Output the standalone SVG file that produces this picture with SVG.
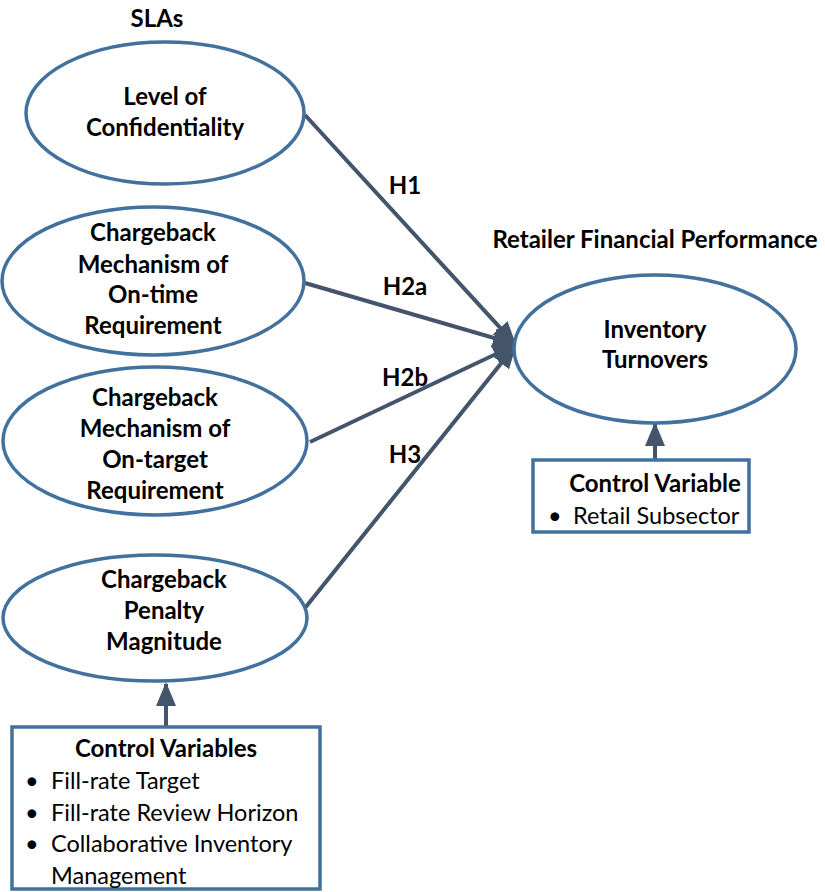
<svg xmlns="http://www.w3.org/2000/svg" width="825" height="892" viewBox="0 0 825 892">
<style>
.node{fill:#fff;stroke:#41719C;stroke-width:3.5}
.box{fill:#fff;stroke:#41719C;stroke-width:3.5}
.t{font-family:Lato,"Open Sans","Liberation Sans",sans-serif;font-size:24px;font-weight:bold;fill:#000;text-anchor:middle}
.r{font-family:Lato,"Open Sans","Liberation Sans",sans-serif;font-size:23.5px;fill:#000}
.c{stroke:#44546A;stroke-width:4;fill:none;marker-end:url(#ah)}
</style>
<defs>
<marker id="ah" markerWidth="6" markerHeight="5" refX="5.5" refY="2.5" orient="auto" markerUnits="strokeWidth">
<path d="M0,0 L6,2.5 L0,5 Z" fill="#44546A"/>
</marker>
</defs>
<rect width="825" height="892" fill="#fff"/>
<text class="t" x="157" y="27">SLAs</text>
<text class="t" x="655" y="248">Retailer Financial Performance</text>
<g id="connectors">
<line class="c" x1="305" y1="115" x2="515" y2="344"/>
<line class="c" x1="305" y1="283" x2="515" y2="344"/>
<line class="c" x1="310" y1="442" x2="515" y2="345"/>
<line class="c" x1="305" y1="608" x2="515" y2="346"/>
<line class="c" x1="655" y1="460" x2="655" y2="424"/>
<line class="c" x1="166" y1="727" x2="166" y2="684"/>
<text class="t" x="405" y="194">H1</text>
<text class="t" x="405" y="295">H2a</text>
<text class="t" x="405" y="386">H2b</text>
<text class="t" x="405" y="463">H3</text>
</g>
<g id="n1">
<ellipse class="node" cx="165" cy="113" rx="139" ry="71"/>
<text class="t" x="165" y="105">Level of</text>
<text class="t" x="165" y="136">Confidentiality</text>
</g>
<g id="n2">
<ellipse class="node" cx="153" cy="281" rx="151" ry="74"/>
<text class="t" x="153" y="241">Chargeback</text>
<text class="t" x="153" y="273">Mechanism of</text>
<text class="t" x="153" y="303">On-time</text>
<text class="t" x="153" y="334">Requirement</text>
</g>
<g id="n3">
<ellipse class="node" cx="155" cy="441" rx="152" ry="74"/>
<text class="t" x="155" y="406">Chargeback</text>
<text class="t" x="155" y="437">Mechanism of</text>
<text class="t" x="155" y="468">On-target</text>
<text class="t" x="155" y="499">Requirement</text>
</g>
<g id="n4">
<ellipse class="node" cx="155" cy="618" rx="152" ry="63"/>
<text class="t" x="164" y="588">Chargeback</text>
<text class="t" x="164" y="619">Penalty</text>
<text class="t" x="164" y="650">Magnitude</text>
</g>
<g id="n5">
<ellipse class="node" cx="655" cy="349" rx="141" ry="74"/>
<text class="t" x="655" y="338">Inventory</text>
<text class="t" x="655" y="368">Turnovers</text>
</g>
<g id="cv1">
<rect class="box" x="533" y="460" width="216" height="72"/>
<text class="t" x="655" y="492">Control Variable</text>
<text class="r" x="548" y="524">•</text>
<text class="r" x="573" y="524">Retail Subsector</text>
</g>
<g id="cv2">
<rect class="box" x="12" y="727" width="308" height="162"/>
<text class="t" x="166" y="757">Control Variables</text>
<text class="r" x="25" y="789">•</text>
<text class="r" x="51" y="789">Fill-rate Target</text>
<text class="r" x="25" y="821">•</text>
<text class="r" x="51" y="821">Fill-rate Review Horizon</text>
<text class="r" x="25" y="852">•</text>
<text class="r" x="51" y="852">Collaborative Inventory</text>
<text class="r" x="51" y="884">Management</text>
</g>
</svg>
